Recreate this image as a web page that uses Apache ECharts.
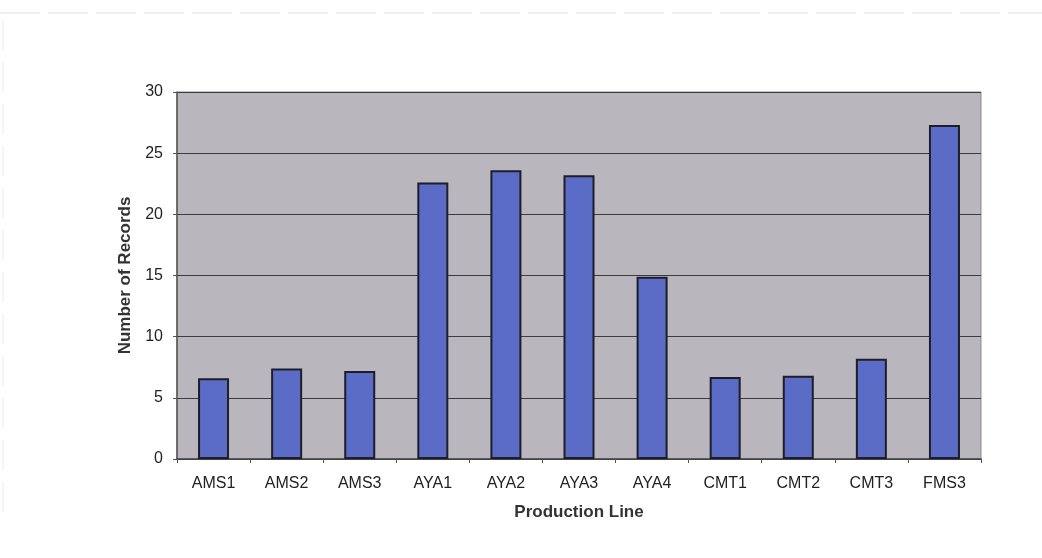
<!DOCTYPE html>
<html>
<head>
<meta charset="utf-8">
<script src="https://cdn.jsdelivr.net/npm/echarts@6/dist/echarts.min.js"></script>
<style>
  html, body { margin: 0; padding: 0; background: #fff; }
  #chart { width: 1042px; height: 558px; }
</style>
</head>
<body>
<div id="chart"></div>
<script>
  // data
  const lines = ['AMS1', 'AMS2', 'AMS3', 'AYA1', 'AYA2', 'AYA3', 'AYA4', 'CMT1', 'CMT2', 'CMT3', 'FMS3'];
  const records = [6.6, 7.4, 7.2, 22.6, 23.6, 23.2, 14.9, 6.7, 6.8, 8.2, 27.3];
  const yTicks = [0, 5, 10, 15, 20, 25, 30];

  const font = 'Liberation Sans, Arial, sans-serif';
  let myChart = echarts.init(document.getElementById('chart'));
  myChart.setOption({
    animation: false,
    grid: {
      left: 177, right: 61, top: 92, bottom: 99,
      show: true,
      backgroundColor: '#b9b6bd',
      borderColor: '#8a888c',
      borderWidth: 1
    },
    graphic: [
      { type: 'line', shape: { x1: 0, y1: 13, x2: 1042, y2: 13 }, style: { stroke: '#e2e2e2', lineWidth: 1, lineDash: [40, 8] } },
      { type: 'line', shape: { x1: 3, y1: 20, x2: 3, y2: 520 }, style: { stroke: '#ececec', lineWidth: 1, lineDash: [30, 12] } }
    ],
    xAxis: {
      type: 'category',
      data: lines,
      name: 'Production Line',
      nameLocation: 'middle',
      nameGap: 45,
      nameTextStyle: { fontFamily: font, fontWeight: 'bold', fontSize: 17, color: '#333' },
      axisLine: { lineStyle: { color: '#444', width: 1.5 } },
      axisTick: { show: true, length: 4, lineStyle: { color: '#555' } },
      axisLabel: { fontFamily: font, fontSize: 16, color: '#222', margin: 17 }
    },
    yAxis: {
      type: 'value',
      min: yTicks[0],
      max: yTicks[yTicks.length - 1],
      interval: 5,
      name: 'Number of Records',
      nameLocation: 'middle',
      nameGap: 43,
      nameTextStyle: { fontFamily: font, fontWeight: 'bold', fontSize: 17, color: '#333' },
      axisLine: { show: true, lineStyle: { color: '#555', width: 1.5 } },
      axisTick: { show: true, length: 4, lineStyle: { color: '#555' } },
      axisLabel: { fontFamily: font, fontSize: 16, color: '#222', margin: 14 },
      splitLine: { lineStyle: { color: '#3c3c3c', width: 1 } }
    },
    series: [{
      type: 'bar',
      data: records,
      barWidth: 31,
      itemStyle: {
        color: '#5a6cc6',
        borderColor: '#1e1e2a',
        borderWidth: 2
      }
    }]
  });
</script>
</body>
</html>
